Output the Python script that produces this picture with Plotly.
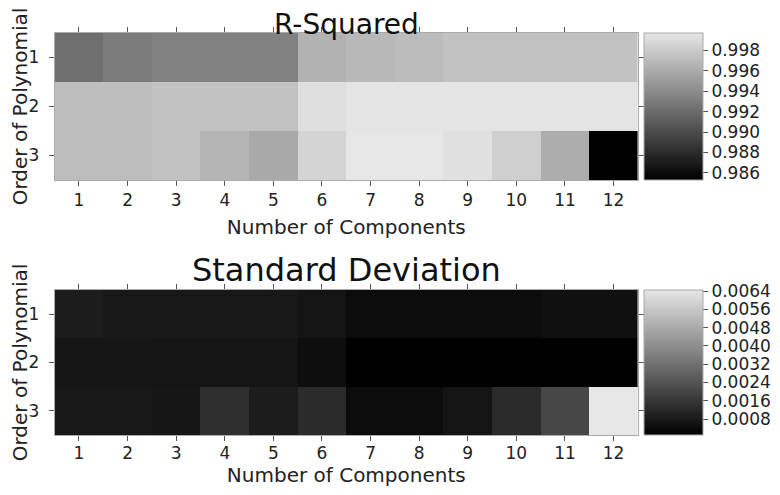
import plotly.graph_objects as go

# x: number of components, y: order of polynomial
components = list(range(1, 13))
orders = [1, 2, 3]

rsq_order1 = [0.99225, 0.99301, 0.99338, 0.99338, 0.99338, 0.99642, 0.99680, 0.99705, 0.99743, 0.99743, 0.99743, 0.99743]
rsq_order2 = [0.99711, 0.99711, 0.99743, 0.99743, 0.99743, 0.99926, 0.99957, 0.99957, 0.99957, 0.99957, 0.99957, 0.99957]
rsq_order3 = [0.99711, 0.99711, 0.99743, 0.99661, 0.99591, 0.99856, 0.99970, 0.99970, 0.99932, 0.99825, 0.99616, 0.98530]

std_order1 = [0.00087, 0.00076, 0.00076, 0.00076, 0.00076, 0.00065, 0.00043, 0.00043, 0.00043, 0.00043, 0.00054, 0.00054]
std_order2 = [0.00070, 0.00070, 0.00065, 0.00065, 0.00065, 0.00048, 0.00010, 0.00010, 0.00010, 0.00010, 0.00010, 0.00010]
std_order3 = [0.00076, 0.00076, 0.00070, 0.00141, 0.00087, 0.00130, 0.00043, 0.00043, 0.00065, 0.00125, 0.00207, 0.00645]

rsq_ticks = [0.986, 0.988, 0.990, 0.992, 0.994, 0.996, 0.998]
std_ticks = [0.0008, 0.0016, 0.0024, 0.0032, 0.0040, 0.0048, 0.0056, 0.0064]

# the page body has an 8px margin, so the figure is drawn 8px smaller
# and every pixel position below is shifted by that much
OFF = 8
W, H = 780 - 2 * OFF, 495 - 2 * OFF
FONT = "DejaVu Sans"
gray = [[0, "#000000"], [1, "#e6e6e6"]]

# page-pixel boxes of the two plot areas (left, right, top, bottom)
boxes = [(55, 642, 33, 180), (55, 642, 290, 435)]


def px(x):
    return (x - OFF) / W


def py(y):
    return 1 - (y - OFF) / H


fig = go.Figure()

panels = [
    ("R-Squared", [rsq_order1, rsq_order2, rsq_order3], rsq_ticks, ".3f"),
    ("Standard Deviation", [std_order1, std_order2, std_order3], std_ticks, ".4f"),
]

for i, (title, z, ticks, fmt) in enumerate(panels):
    l, r, t, b = boxes[i]
    sfx = "" if i == 0 else "2"
    fig.add_trace(go.Heatmap(
        x=components, y=orders, z=z,
        xaxis="x" + sfx, yaxis="y" + sfx,
        colorscale=gray,
        colorbar=dict(
            x=px(648), xanchor="left", xpad=0, ypad=0,
            y=py((t + b) / 2), yanchor="middle",
            thickness=59, lenmode="pixels", len=b - t,
            tickvals=ticks, tickformat=fmt,
            ticks="outside", ticklen=5, tickcolor="#555",
            outlinecolor="#aaaaaa", outlinewidth=1,
            tickfont=dict(family=FONT, size=17, color="#222"),
        ),
    ))
    axis_common = dict(
        ticks="outside", ticklen=5, tickcolor="#555",
        showline=True, linecolor="#aaaaaa", mirror="ticks",
        showgrid=False, zeroline=False,
        tickfont=dict(family=FONT, size=17, color="#222"),
        automargin=False,
    )
    fig.update_layout({
        "xaxis" + sfx: dict(
            domain=[px(l), px(r)], anchor="y" + sfx,
            tickvals=components,
            ticklabelstandoff=0 if i == 0 else -2,
            title=dict(text="Number of Components", standoff=10 if i == 0 else 4,
                       font=dict(family=FONT, size=20, color="#222")),
            **axis_common,
        ),
        "yaxis" + sfx: dict(
            domain=[py(b), py(t)], anchor="x" + sfx,
            tickvals=orders, autorange="reversed",
            ticklabelstandoff=6,
            title=dict(text="Order of Polynomial", standoff=2,
                       font=dict(family=FONT, size=20, color="#222")),
            **axis_common,
        ),
    })

# panel titles
fig.add_annotation(
    text="R-Squared", xref="paper", yref="paper",
    x=px(348.5), y=py(42.7), xanchor="center", yanchor="bottom",
    showarrow=False, font=dict(family=FONT, size=28, color="#111"),
)
fig.add_annotation(
    text="Standard Deviation", xref="paper", yref="paper",
    x=px(348.5), y=py(291), xanchor="center", yanchor="bottom",
    showarrow=False, font=dict(family=FONT, size=32, color="#111"),
)

fig.update_layout(
    width=W, height=H,
    margin=dict(l=0, r=0, t=0, b=0),
    paper_bgcolor="white", plot_bgcolor="white",
    font=dict(family=FONT),
)

fig.write_html("out.html")
